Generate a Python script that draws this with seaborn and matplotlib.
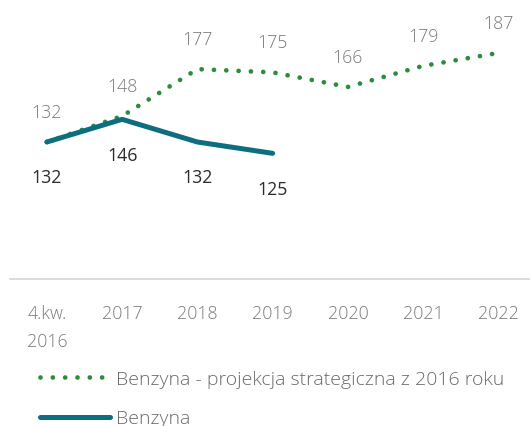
import matplotlib
matplotlib.use("Agg")
import matplotlib.pyplot as plt
import seaborn as sns
import pandas as pd
import numpy as np
from matplotlib.lines import Line2D

categories = ["4.kw.\n2016", "2017", "2018", "2019", "2020", "2021", "2022"]
projection = [132, 148, 177, 175, 166, 179, 187]
actual = [132, 146, 132, 125]
label_projection = "Benzyna - projekcja strategiczna z 2016 roku"
label_actual = "Benzyna"

GREEN = "#2a8c3c"
TEAL = "#0c6e80"
GRAY_TXT = "#7a7a7a"
DARK_TXT = "#2b2b2b"

sns.set_theme(style="white")
plt.rcParams["font.family"] = ["Open Sans", "DejaVu Sans"]

fig = plt.figure(figsize=(5.3, 4.27), dpi=100)
W, H = 530, 427
ax = fig.add_axes([10 / W, (H - 280) / H, 520 / W, 280 / H])

x_proj = np.arange(len(projection))
x_act = np.arange(len(actual))

df_p = pd.DataFrame({"x": x_proj, "v": projection})
df_a = pd.DataFrame({"x": x_act, "v": actual})

DOT_LW = 3.4
DOT_STYLE = (0, (0.01, 2.6))

sns.lineplot(data=df_p, x="x", y="v", ax=ax, color=GREEN, linewidth=DOT_LW)
lp = ax.lines[-1]
lp.set_linestyle(DOT_STYLE)
lp.set_dash_capstyle("round")

sns.lineplot(data=df_a, x="x", y="v", ax=ax, color=TEAL, linewidth=3.6)
la = ax.lines[-1]
la.set_solid_capstyle("round")
la.set_solid_joinstyle("round")

ax.set_xlim(-0.49, 6.42)
ax.set_ylim(47.4, 220.3)

for xi, v in zip(x_proj, projection):
    ax.annotate(str(v), (xi, v), xytext=(0, 21.5), textcoords="offset points",
                ha="center", va="center", fontsize=12.8, color=GRAY_TXT,
                fontweight="light")
for xi, v in zip(x_act, actual):
    ax.annotate(str(v), (xi, v), xytext=(0, -25.5), textcoords="offset points",
                ha="center", va="center", fontsize=12.8, color=DARK_TXT)

ax.set_xticks(np.arange(len(categories)))
ax.set_xticklabels(categories, fontsize=12.8, color=GRAY_TXT, fontweight="light",
                   linespacing=1.7, va="top")
ax.tick_params(axis="x", length=0, pad=18)
ax.set_yticks([])
ax.set_xlabel("")
ax.set_ylabel("")
for s in ["top", "right", "left"]:
    ax.spines[s].set_visible(False)
ax.spines["bottom"].set_color("#d9d9d9")
ax.spines["bottom"].set_linewidth(1.3)
ax.set_facecolor("none")

h1 = Line2D([], [], color=GREEN, linewidth=DOT_LW, linestyle=DOT_STYLE,
            dash_capstyle="round")
h2 = Line2D([], [], color=TEAL, linewidth=3.6, solid_capstyle="round")
leg = fig.legend([h1, h2], [label_projection, label_actual],
                 loc="upper left", bbox_to_anchor=(40 / W, (H - 371) / H),
                 frameon=False, fontsize=14, handlelength=3.6,
                 handletextpad=0.3, labelspacing=1.1, borderpad=0,
                 borderaxespad=0)
for t in leg.get_texts():
    t.set_color("#6a6a6a")
    t.set_fontweight("light")

fig.savefig("out.png", dpi=100)
